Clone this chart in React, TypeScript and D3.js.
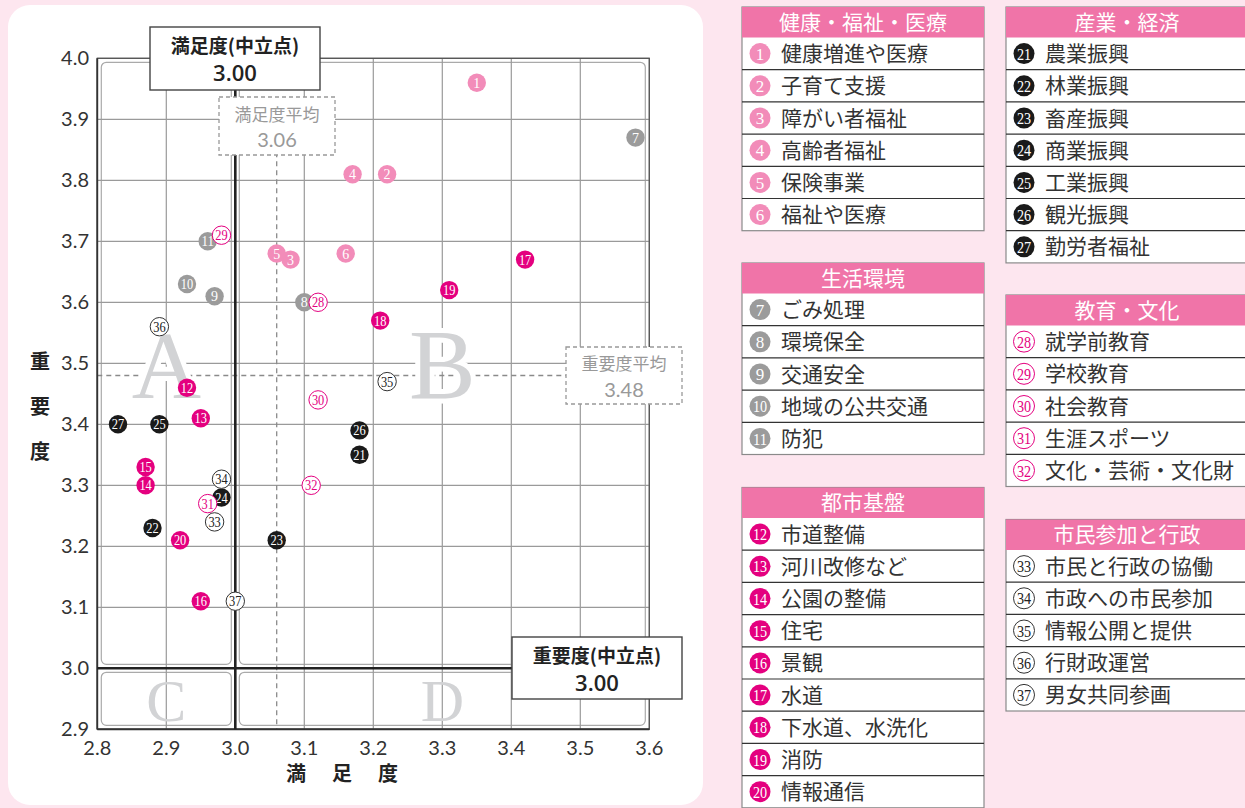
import React from "react";
import * as d3 from "d3";

// ---------- DATA ----------
const catHealth = ["健康増進や医療", "子育て支援", "障がい者福祉", "高齢者福祉", "保険事業", "福祉や医療"];
const catLife = ["ごみ処理", "環境保全", "交通安全", "地域の公共交通", "防犯"];
const catCity = ["市道整備", "河川改修など", "公園の整備", "住宅", "景観", "水道", "下水道、水洗化", "消防", "情報通信"];
const catIndustry = ["農業振興", "林業振興", "畜産振興", "商業振興", "工業振興", "観光振興", "勤労者福祉"];
const catEdu = ["就学前教育", "学校教育", "社会教育", "生涯スポーツ", "文化・芸術・文化財"];
const catCitizen = ["市民と行政の協働", "市政への市民参加", "情報公開と提供", "行財政運営", "男女共同参画"];

const groupTitles = ["健康・福祉・医療", "生活環境", "都市基盤", "産業・経済", "教育・文化", "市民参加と行政"];

// satisfaction (満足度) for items 1..37
const satisfaction = [
  3.35, 3.22, 3.08, 3.17, 3.06, 3.16,
  3.58, 3.10, 2.97, 2.93, 2.96,
  2.93, 2.95, 2.87, 2.87, 2.95, 3.42, 3.21, 3.31, 2.92,
  3.18, 2.88, 3.06, 2.98, 2.89, 3.18, 2.83,
  3.12, 2.98, 3.12, 2.96, 3.11,
  2.97, 2.98, 3.22, 2.89, 3.00,
];
// importance (重要度) for items 1..37
const importance = [
  3.96, 3.81, 3.67, 3.81, 3.68, 3.68,
  3.87, 3.60, 3.61, 3.63, 3.70,
  3.46, 3.41, 3.30, 3.33, 3.11, 3.67, 3.57, 3.62, 3.21,
  3.35, 3.23, 3.21, 3.28, 3.40, 3.39, 3.40,
  3.60, 3.71, 3.44, 3.27, 3.30,
  3.24, 3.31, 3.47, 3.56, 3.11,
];

const xTicks = ["2.8", "2.9", "3.0", "3.1", "3.2", "3.3", "3.4", "3.5", "3.6"];
const yTicks = ["2.9", "3.0", "3.1", "3.2", "3.3", "3.4", "3.5", "3.6", "3.7", "3.8", "3.9", "4.0"];

const neutral = 3.0;
const satAvg = 3.06;
const impAvg = 3.48;

// ---------- STYLE ----------
const PINK_BG = "#fde6ef";
const HEADER = "#f074a8";
type MarkStyle = { fill: string; stroke: string; text: string };
const styles: MarkStyle[] = [
  { fill: "#f28cb9", stroke: "none", text: "#fff" }, // 健康
  { fill: "#9b9b9b", stroke: "none", text: "#fff" }, // 生活
  { fill: "#e4007f", stroke: "none", text: "#fff" }, // 都市
  { fill: "#1a1a1a", stroke: "none", text: "#fff" }, // 産業
  { fill: "#fff", stroke: "#e4007f", text: "#e4007f" }, // 教育
  { fill: "#fff", stroke: "#333", text: "#222" }, // 市民
];
// group index of each item number (1..37)
const groupOf = (n: number) =>
  n <= 6 ? 0 : n <= 11 ? 1 : n <= 20 ? 2 : n <= 27 ? 3 : n <= 32 ? 4 : 5;

const groupItems = [catHealth, catLife, catCity, catIndustry, catEdu, catCitizen];
const groupStart = [1, 7, 12, 21, 28, 33];
// legend table placement (layout)
const tableLayout = [
  { x: 742, y: 7 },
  { x: 742, y: 263 },
  { x: 742, y: 487.5 },
  { x: 1006, y: 7 },
  { x: 1006, y: 295 },
  { x: 1006, y: 519.5 },
];
const TABLE_W = 242;
const HEAD_H = 30.5;
const ROW_H = 32.2;

const CJK = "'Noto Sans CJK JP', 'Noto Sans', sans-serif";
const NUMF = "'Liberation Serif', 'DejaVu Serif', serif";
const TICKF = "Lato, 'Open Sans', sans-serif";

function Marker({ n, cx, cy, r, fs }: { n: number; cx: number; cy: number; r: number; fs: number }) {
  const st = styles[groupOf(n)];
  const label = String(n);
  const two = label.length > 1;
  return (
    <g>
      <circle cx={cx} cy={cy} r={r} fill={st.fill} stroke={st.stroke} strokeWidth={st.stroke === "none" ? 0 : 1} />
      <text
        x={cx}
        y={cy + fs * 0.36}
        textAnchor="middle"
        fontFamily={NUMF}
        fontSize={fs}
        fill={st.text}
        textLength={two ? r * 1.35 : undefined}
        lengthAdjust={two ? "spacingAndGlyphs" : undefined}
      >
        {label}
      </text>
    </g>
  );
}

export default function App() {
  const x = d3.scaleLinear().domain([2.8, 3.6]).range([97.3, 649.3]);
  const y = d3.scaleLinear().domain([2.9, 4.0]).range([729.3, 58.3]);

  const x0 = x(2.8), x1 = x(3.6), y0 = y(2.9), y1 = y(4.0);
  const xn = x(neutral), yn = y(neutral);

  const points = satisfaction.map((s, i) => ({ n: i + 1, s, imp: importance[i] }));

  const quadRects = [
    { x: x0 + 4, y: y1 + 4, w: xn - 4 - (x0 + 4), h: yn - 4 - (y1 + 4) },
    { x: xn + 4, y: y1 + 4, w: x1 - 4 - (xn + 4), h: yn - 4 - (y1 + 4) },
    { x: x0 + 4, y: yn + 4, w: xn - 4 - (x0 + 4), h: y0 - 4 - (yn + 4) },
    { x: xn + 4, y: yn + 4, w: x1 - 4 - (xn + 4), h: y0 - 4 - (yn + 4) },
  ];

  return (
    <svg
      width={1245}
      height={808}
      style={{ position: "absolute", left: 0, top: 0 }}
      xmlns="http://www.w3.org/2000/svg"
    >
      <rect x={0} y={0} width={1245} height={808} fill={PINK_BG} />
      <rect x={8} y={5} width={695} height={800} rx={22} fill="#fff" />

      {/* quadrant rounded boxes */}
      {quadRects.map((q, i) => (
        <rect key={i} x={q.x} y={q.y} width={q.w} height={q.h} rx={5} fill="none" stroke="#aaa" strokeWidth={1.2} />
      ))}

      {/* gridlines */}
      {xTicks.map((t) => (
        <line key={"gx" + t} x1={x(+t)} x2={x(+t)} y1={y1} y2={y0} stroke="#9a9a9a" strokeWidth={1.2} />
      ))}
      {yTicks.map((t) => (
        <line key={"gy" + t} x1={x0} x2={x1} y1={y(+t)} y2={y(+t)} stroke="#9a9a9a" strokeWidth={1.2} />
      ))}

      {/* average dashed lines */}
      <line x1={x(satAvg)} x2={x(satAvg)} y1={y1 + 40} y2={y0} stroke="#8a8a8a" strokeWidth={1.3} strokeDasharray="5,4" />
      <line x1={x0} x2={x1} y1={y(impAvg)} y2={y(impAvg)} stroke="#8a8a8a" strokeWidth={1.3} strokeDasharray="5,4" />

      {/* big quadrant letters */}
      {[
        { l: "A", cx: (x0 + xn) / 2, by: y(3.48) + 22, fs: 96 },
        { l: "B", cx: x(3.3), by: y(3.48) + 22, fs: 100 },
        { l: "C", cx: (x0 + xn) / 2, by: y(2.9) - 8, fs: 60 },
        { l: "D", cx: x(3.3), by: y(2.9) - 8, fs: 60 },
      ].map((d) => (
        <text
          key={d.l}
          x={d.cx}
          y={d.by}
          textAnchor="middle"
          fontFamily={NUMF}
          fontSize={d.fs}
          fill="#d2d3d5"
          stroke="#fff"
          strokeWidth={d.fs > 80 ? 10 : 0}
          paintOrder="stroke"
        >
          {d.l}
        </text>
      ))}

      {/* frame + neutral lines */}
      <rect x={x0} y={y1} width={x1 - x0} height={y0 - y1} fill="none" stroke="#555" strokeWidth={1.3} />
      <line x1={x0} x2={x0} y1={y1} y2={y0} stroke="#333" strokeWidth={1.8} />
      <line x1={x0} x2={x1} y1={y0} y2={y0} stroke="#333" strokeWidth={2} />
      <line x1={xn} x2={xn} y1={y1} y2={y0} stroke="#222" strokeWidth={2.6} />
      <line x1={x0} x2={x1} y1={yn} y2={yn} stroke="#222" strokeWidth={2.6} />

      {/* tick labels */}
      {xTicks.map((t) => (
        <text key={"tx" + t} x={x(+t)} y={755} textAnchor="middle" fontFamily={TICKF} fontSize={20} fill="#333">
          {t}
        </text>
      ))}
      {yTicks.map((t) => (
        <text key={"ty" + t} x={89} y={y(+t) + 7} textAnchor="end" fontFamily={TICKF} fontSize={20} fill="#333">
          {t}
        </text>
      ))}

      {/* axis titles */}
      <text x={355} y={781} textAnchor="middle" fontFamily={CJK} fontWeight={700} fontSize={20} fill="#222" letterSpacing={26}>
        満足度
      </text>
      {["重", "要", "度"].map((c, i) => (
        <text key={c} x={40} y={369 + i * 45} textAnchor="middle" fontFamily={CJK} fontWeight={700} fontSize={20} fill="#222">
          {c}
        </text>
      ))}

      {/* average labels (dashed boxes) */}
      <rect x={219} y={97} width={116} height={58} fill="#fff" stroke="#999" strokeWidth={1.3} strokeDasharray="4,3" />
      <text x={277} y={121} textAnchor="middle" fontFamily={CJK} fontSize={17} fill="#999">満足度平均</text>
      <text x={277} y={147} textAnchor="middle" fontFamily={TICKF} fontSize={20} fill="#999">{satAvg.toFixed(2)}</text>

      <rect x={566} y={347} width={116} height={57} fill="#fff" stroke="#999" strokeWidth={1.3} strokeDasharray="4,3" />
      <text x={624} y={370} textAnchor="middle" fontFamily={CJK} fontSize={17} fill="#999">重要度平均</text>
      <text x={624} y={397} textAnchor="middle" fontFamily={TICKF} fontSize={20} fill="#999">{impAvg.toFixed(2)}</text>

      {/* points */}
      {points.map((p) => (
        <Marker key={p.n} n={p.n} cx={x(p.s)} cy={y(p.imp)} r={9.2} fs={14} />
      ))}

      {/* neutral label boxes */}
      <rect x={150} y={27} width={170} height={63} fill="#fff" stroke="#444" strokeWidth={1.4} />
      <text x={235} y={53} textAnchor="middle" fontFamily={CJK} fontWeight={700} fontSize={19} fill="#222">満足度(中立点)</text>
      <text x={235} y={81} textAnchor="middle" fontFamily="'Open Sans', sans-serif" fontWeight={600} fontSize={22} fill="#222">{neutral.toFixed(2)}</text>

      <rect x={512} y={637} width={170} height={62} fill="#fff" stroke="#444" strokeWidth={1.4} />
      <text x={597} y={663} textAnchor="middle" fontFamily={CJK} fontWeight={700} fontSize={19} fill="#222">重要度(中立点)</text>
      <text x={597} y={691} textAnchor="middle" fontFamily="'Open Sans', sans-serif" fontWeight={600} fontSize={22} fill="#222">{neutral.toFixed(2)}</text>

      {/* legend tables */}
      {tableLayout.map((tl, gi) => {
        const items = groupItems[gi];
        const h = HEAD_H + items.length * ROW_H;
        return (
          <g key={gi}>
            <rect x={tl.x} y={tl.y} width={TABLE_W} height={h} fill="#fff" stroke="#8a8a8a" strokeWidth={1.2} />
            <rect x={tl.x} y={tl.y} width={TABLE_W} height={HEAD_H} fill={HEADER} />
            <text x={tl.x + TABLE_W / 2} y={tl.y + HEAD_H / 2 + 7.5} textAnchor="middle" fontFamily={CJK} fontSize={21} fill="#fff">
              {groupTitles[gi]}
            </text>
            {items.map((name, i) => {
              const ry = tl.y + HEAD_H + i * ROW_H;
              const n = groupStart[gi] + i;
              return (
                <g key={name}>
                  {i > 0 && <line x1={tl.x} x2={tl.x + TABLE_W} y1={ry} y2={ry} stroke="#333" strokeWidth={1.2} />}
                  <Marker n={n} cx={tl.x + 18} cy={ry + ROW_H / 2} r={10.5} fs={17} />
                  <text x={tl.x + 39} y={ry + ROW_H / 2 + 7.5} fontFamily={CJK} fontSize={21} fill="#333">
                    {name}
                  </text>
                </g>
              );
            })}
          </g>
        );
      })}
    </svg>
  );
}
